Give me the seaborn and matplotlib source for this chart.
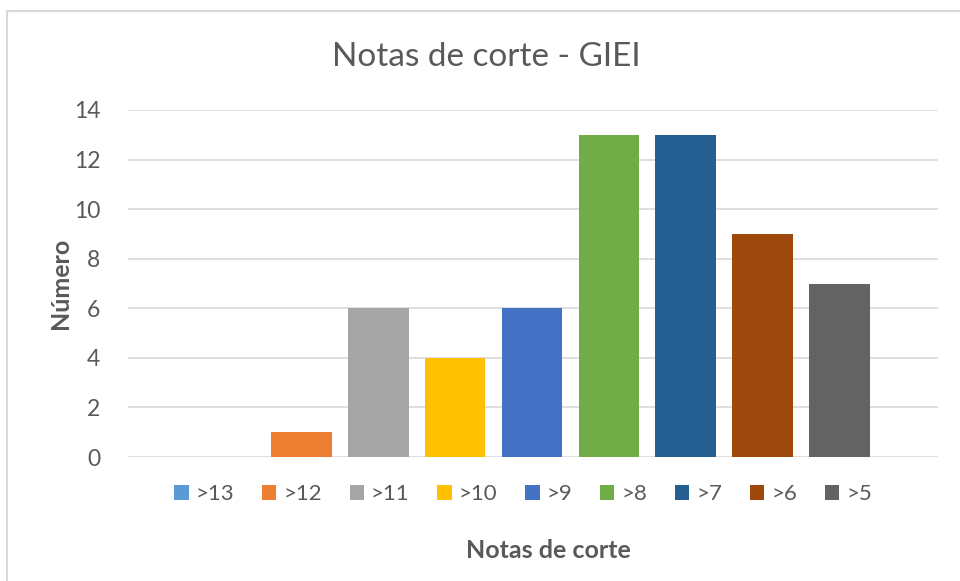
"""
Notas de corte - GIEI, gráfico de barras estilo Excel
"""
import pandas as pd
import matplotlib.pyplot as plt
import seaborn as sns
from matplotlib.patches import Rectangle

# Datos
categorias = ['>13', '>12', '>11', '>10', '>9', '>8', '>7', '>6', '>5']
valores = [0, 1, 6, 4, 6, 13, 13, 9, 7]
colores = ['#5B9BD5', '#ED7D31', '#A5A5A5', '#FFC000', '#4472C4',
           '#70AD47', '#255E91', '#9E480E', '#636363']
y_ticks = [0, 2, 4, 6, 8, 10, 12, 14]

TXT = '#595959'
GRID = '#D9D9D9'

sns.set_style('white')
plt.rcParams['font.family'] = ['Lato', 'DejaVu Sans']

df = pd.DataFrame({'nota': categorias, 'numero': valores})

fig = plt.figure(figsize=(9.6, 5.81), dpi=100)
ax = fig.add_axes([128 / 960, 1 - 457 / 581, (938 - 128) / 960, (457 - 110) / 581])

sns.barplot(
    data=df, x='nota', y='numero', hue='nota',
    order=categorias, hue_order=categorias,
    palette=colores, width=0.79, saturation=1, linewidth=0,
    ax=ax, legend=True
)

ax.set_xlim(-1.253, 9.279)
ax.set_ylim(0, 14)
ax.set_yticks(y_ticks)
ax.set_yticklabels([str(v) for v in y_ticks], fontsize=16.5, color=TXT)
ax.set_xticks([])
ax.tick_params(axis='y', length=0, pad=20)
ax.set_axisbelow(True)
ax.grid(True, axis='y', color=GRID, linewidth=1.2)
for s in ax.spines.values():
    s.set_visible(False)
ax.set_xlabel('')
ax.set_ylabel('')

# Leyenda debajo
sns.move_legend(
    ax, 'center', bbox_to_anchor=(523 / 960, 1 - 494 / 581),
    bbox_transform=fig.transFigure, ncol=9, frameon=False, title=None,
    fontsize=16, handlelength=0.65, handleheight=0.65, handletextpad=0.3,
    columnspacing=1.26, labelcolor=TXT
)

fig.text(486 / 960, 1 - 57 / 581, 'Notas de corte - GIEI', ha='center', va='center',
         fontsize=24, color=TXT)
fig.text(548 / 960, 1 - 551 / 581, 'Notas de corte', ha='center', va='center',
         fontsize=18, fontweight='bold', color=TXT)
fig.text(60 / 960, 1 - 283 / 581, 'Número', ha='center', va='center', rotation=90,
         fontsize=18, fontweight='bold', color=TXT)

# Marco del gráfico
fig.patches.append(Rectangle((7 / 960, -0.1), 1.2, 1 - 11 / 581 + 0.1,
                             transform=fig.transFigure, fill=False,
                             edgecolor=GRID, linewidth=1.5))

plt.savefig('out.png', dpi=100)
